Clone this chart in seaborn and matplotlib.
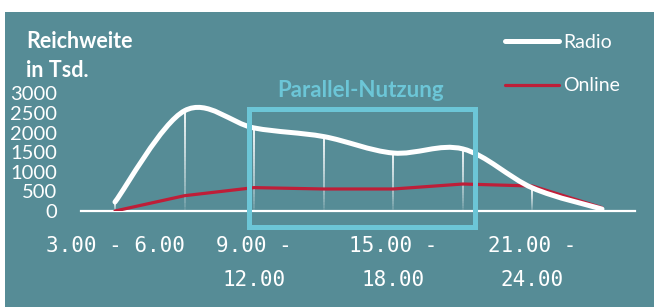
import numpy as np
import pandas as pd
import matplotlib
matplotlib.use("Agg")
import matplotlib.pyplot as plt
import seaborn as sns
from matplotlib.path import Path
from matplotlib.patches import PathPatch, Rectangle
from matplotlib.collections import LineCollection
from matplotlib.lines import Line2D

# ---- data ----
categories = ["3.00 - 6.00", "6.00 - 9.00", "9.00 - 12.00", "12.00 - 15.00",
              "15.00 - 18.00", "18.00 - 21.00", "21.00 - 24.00", "24.00 - 3.00"]
radio = [230, 2560, 2120, 1900, 1480, 1585, 588, 50]
online = [0, 391, 597, 562, 562, 689, 638, 84]
tick_positions = [0, 2, 4, 6]
tick_labels = ["3.00 - 6.00", "9.00 -\n12.00", "15.00 -\n18.00", "21.00 -\n24.00"]
y_ticks = [0, 500, 1000, 1500, 2000, 2500, 3000]
series_names = ["Radio", "Online"]

# ---- style ----
TEAL = "#568C96"
RED = "#BE1E38"
CYAN = "#6CC6D7"
W, H, DPI = 654, 307, 100

sns.set_style("white")
plt.rcParams["font.family"] = ["Lato", "DejaVu Sans"]

fig = plt.figure(figsize=(W / DPI, H / DPI), dpi=DPI, facecolor="white")
fig.patches.append(Rectangle((5 / W, 0), 1 - 5 / W, (H - 11.5) / H,
                             transform=fig.transFigure, facecolor=TEAL,
                             edgecolor="none", zorder=-10))

ax = fig.add_axes([81 / W, (H - 211) / H, (635 - 81) / W, (211 - 85) / H])
ax.set_facecolor("none")
ax.set_zorder(5)

x = np.arange(len(categories))
df = pd.DataFrame({"x": x, "online": online})

# drop lines with fading gradient
segs, cols = [], []
N = 24
for xi, v in zip(x[:-1], radio[:-1]):
    edges = np.linspace(0, v, N + 1)
    for k in range(N):
        segs.append([(xi, edges[k]), (xi, edges[k + 1])])
        a = 0.05 + 0.95 * ((k + 0.5) / N) ** 0.7
        cols.append((1, 1, 1, a))
ax.add_collection(LineCollection(segs, colors=cols, linewidths=1.3, zorder=2))

# online line
sns.lineplot(data=df, x="x", y="online", color=RED, linewidth=2.3, ax=ax,
             zorder=4, legend=False)

# radio smooth line (Catmull-Rom / Bezier through data points)
r = np.array(radio, dtype=float)
xp = np.concatenate([[x[0]], x, [x[-1]]]).astype(float)
rp = np.concatenate([[r[0]], r, [r[-1]]])
verts = [(x[0], r[0])]
codes = [Path.MOVETO]
for i in range(len(x) - 1):
    p0 = np.array([xp[i], rp[i]])
    p1 = np.array([xp[i + 1], rp[i + 1]])
    p2 = np.array([xp[i + 2], rp[i + 2]])
    p3 = np.array([xp[i + 3], rp[i + 3]])
    c1 = p1 + (p2 - p0) / 6
    c2 = p2 - (p3 - p1) / 6
    verts += [tuple(c1), tuple(c2), tuple(p2)]
    codes += [Path.CURVE4] * 3
ax.add_patch(PathPatch(Path(verts, codes), facecolor="none", edgecolor="white",
                       linewidth=3.6, capstyle="round", joinstyle="round", zorder=5))

# parallel usage box
BOX_X0, BOX_X1, BOX_Y0, BOX_Y1 = 1.926, 5.168, -416, 2604
ax.add_patch(Rectangle((BOX_X0, BOX_Y0), BOX_X1 - BOX_X0, BOX_Y1 - BOX_Y0,
                       facecolor="none", edgecolor=CYAN, linewidth=3.6,
                       clip_on=False, zorder=6))

ax.set_xlim((81 - 115) / 69.57, (635 - 115) / 69.57)
ax.set_ylim(0, (211 - 85) / 0.03917)

for s in ["top", "right", "left"]:
    ax.spines[s].set_visible(False)
ax.spines["bottom"].set_color("white")
ax.spines["bottom"].set_linewidth(1.6)
ax.spines["bottom"].set_zorder(3)

ax.set_yticks(y_ticks)
ax.set_yticklabels([str(v) for v in y_ticks])
ax.tick_params(axis="y", length=0, pad=17, labelsize=14.5, labelcolor="white")
ax.set_xticks(tick_positions)
ax.set_xticklabels(tick_labels, family=["DejaVu Sans Mono"], fontsize=15,
                   color="white", linespacing=1.85)
ax.tick_params(axis="x", length=0, pad=18)
ax.set_xlabel("")
ax.set_ylabel("")

fig.text(26 / W, 1 - 48.3 / H, "Reichweite", color="white", fontsize=15.5,
         fontweight="bold", va="baseline", ha="left")
fig.text(26 / W, 1 - 76.7 / H, "in Tsd.", color="white", fontsize=15.5,
         fontweight="bold", va="baseline", ha="left")
fig.text(360.5 / W, 1 - 97.5 / H, "Parallel-Nutzung", color=CYAN, fontsize=16,
         fontweight="bold", va="baseline", ha="center")

handles = [Line2D([], [], color="white", linewidth=3.6, solid_capstyle="round"),
           Line2D([], [], color=RED, linewidth=2.3)]
fig.legend(handles, series_names, loc="upper left",
           bbox_to_anchor=(505 / W, 1 - 34 / H), frameon=False,
           fontsize=14, labelcolor="white", handlelength=2.8,
           handletextpad=0.2, labelspacing=1.36, borderpad=0, borderaxespad=0)

fig.savefig("out.png", dpi=DPI, facecolor="white")
